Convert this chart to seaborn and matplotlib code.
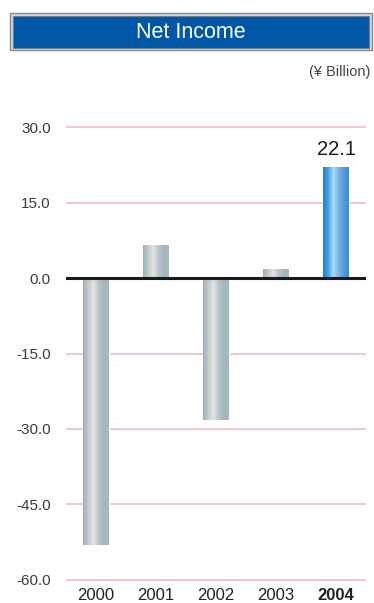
import numpy as np
import pandas as pd
import matplotlib
matplotlib.use("Agg")
import matplotlib.pyplot as plt
from matplotlib.colors import LinearSegmentedColormap
from matplotlib.patches import Rectangle
import seaborn as sns

years = ["2000", "2001", "2002", "2003", "2004"]
net_income = [-53.0, 6.6, -28.2, 1.8, 22.1]
y_ticks = [30.0, 15.0, 0.0, -15.0, -30.0, -45.0, -60.0]

sns.set_style("white")
plt.rcParams["font.family"] = ["Liberation Sans", "DejaVu Sans"]

df = pd.DataFrame({"year": years, "value": net_income})

fig = plt.figure(figsize=(3.74, 6.03), dpi=100)
ax = fig.add_axes([66 / 374, (603 - 582.5) / 603, 300 / 374, 458 / 603])

sns.barplot(data=df, x="year", y="value", color="#aab8c0", width=0.42,
            saturation=1, ax=ax, zorder=3)

# cylinder-like shading on each bar
gray_cmap = LinearSegmentedColormap.from_list(
    "gray_bar", ["#9fb0b8", "#c4ccd0", "#e4e2e0", "#bcc6cb", "#a6b6be", "#a8b8c0"])
blue_cmap = LinearSegmentedColormap.from_list(
    "blue_bar", ["#1f7fcc", "#4aa2e0", "#a6dcf6", "#7ab6e6", "#5c9ad8", "#3a8cd4"])
grad = np.linspace(0, 1, 64).reshape(1, -1)
for i, patch in enumerate(ax.patches):
    x0, y0 = patch.get_x(), patch.get_y()
    w, h = patch.get_width(), patch.get_height()
    cmap = blue_cmap if years[i] == "2004" else gray_cmap
    im = ax.imshow(grad, cmap=cmap, aspect="auto", zorder=4,
                   extent=(x0, x0 + w, min(y0, y0 + h), max(y0, y0 + h)))
    im.set_clip_path(patch)

ax.set_xlim(-0.5, 4.5)
ax.set_ylim(-60.5, 30.5)
ax.set_yticks(y_ticks)
ax.set_yticklabels([f"{t:.1f}" for t in y_ticks])

for t in y_ticks:
    if t != 0:
        ax.axhline(t, color="#f6c4c6", lw=1.4, zorder=1)
ax.axhline(0, color="#1a1a1a", lw=2.2, zorder=5)

for s in ax.spines.values():
    s.set_visible(False)
ax.tick_params(axis="both", length=0, labelsize=11, colors="#3a3a3a")
ax.tick_params(axis="y", pad=11)
ax.tick_params(axis="x", pad=4)
for lbl in ax.get_xticklabels():
    lbl.set_fontsize(12)
    lbl.set_color("#222222")
ax.get_xticklabels()[-1].set_fontweight("bold")
ax.set_xlabel("")
ax.set_ylabel("")

ax.text(4, 22.1 + 1.6, "22.1", ha="center", va="bottom", fontsize=14.5,
        color="#1a1a1a")

# title banner
fig.patches.append(Rectangle((10 / 374, 1 - 50 / 603), 362 / 374, 37 / 603,
                             transform=fig.transFigure, facecolor="#d8d8d8",
                             edgecolor="#8a8a8a", lw=1))
fig.patches.append(Rectangle((13 / 374, 1 - 47.5 / 603), 356 / 374, 32 / 603,
                             transform=fig.transFigure, facecolor="#0057a8",
                             edgecolor="#6a7e96", lw=0.8))
fig.text(191 / 374, 1 - 32 / 603, "Net Income", ha="center", va="center",
         color="white", fontsize=15.5)
fig.text(370 / 374, 1 - 72 / 603, "(¥ Billion)", ha="right", va="center",
         color="#444444", fontsize=10.5)

fig.savefig("out.png", dpi=100)
